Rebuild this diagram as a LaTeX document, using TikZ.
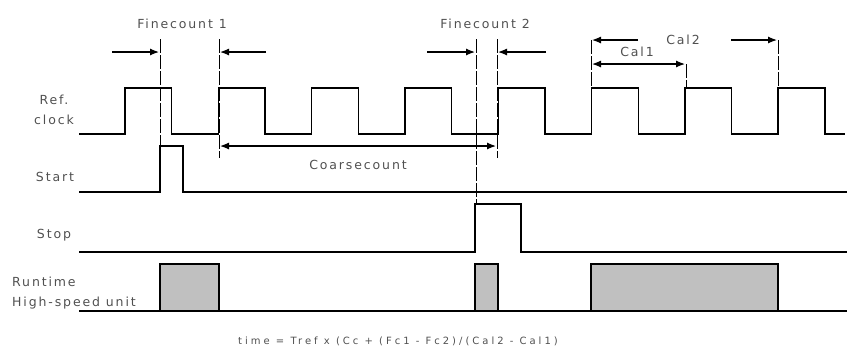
\documentclass[tikz,border=0pt]{standalone}
\usepackage{fontspec}
\setmainfont{DejaVu Sans}[LetterSpace=15]
\usetikzlibrary{arrows.meta}
\definecolor{label-gray}{HTML}{505050}
\definecolor{pulse-gray}{HTML}{C0C0C0}

\begin{document}
\begin{tikzpicture}[x=1pt, y=-1pt,
    every node/.style={font=\fontsize{12.5}{20}\selectfont, text=label-gray, inner sep=0pt},
    wave/.style={line width=1.4pt, line join=miter},
    marker/.style={line width=1pt, dash pattern=on 14pt off 2pt},
    dim/.style={line width=1.2pt, -{Latex[length=9pt,width=7pt]}},
    dimboth/.style={line width=1.2pt, {Latex[length=9pt,width=7pt]}-{Latex[length=9pt,width=7pt]}}]
  \useasboundingbox (0,0) rectangle (849,349);

  % signal names
  \node[align=center] (ref) at (54,110) {Ref.\\clock};
  \node (start) at (55,177) {Start};
  \node (stop) at (54,235) {Stop};
  \node[anchor=west, align=left] (runtime) at (12,293) {Runtime\\High-speed unit};

  % waveforms
  \draw[wave] (79,134) foreach \k in {0,...,7} {
      -- ({125+93.3*\k},134) -- ++(0,-46) -- ++(46.7,0) -- ++(0,46) } -- (845,134);
  \draw[wave] (79,192) -- (160,192) -- (160,146) -- (183,146) -- (183,192) -- (847,192);
  \draw[wave] (79,252) -- (475,252) -- (475,204) -- (521,204) -- (521,252) -- (847,252);
  \draw[wave] (79,311) -- (847,311);
  \foreach \a/\b in {160/219, 475/498, 591/778}
    \draw[line width=1.2pt, fill=pulse-gray] (\a,311) rectangle (\b,264);

  % markers
  \draw[marker] (160,39) -- (160,146);
  \draw[marker] (219,39) -- (219,158);
  \draw[marker] (476,39) -- (476,204);
  \draw[marker] (497,39) -- (497,158);
  \draw[marker] (591,40) -- (591,88);
  \draw[marker] (686,64) -- (686,88);
  \draw[marker] (778,40) -- (778,88);

  % Finecount 1
  \node (fc1) at (182,24) {Finecount 1};
  \coordinate (fc1-l) at (112,52);
  \coordinate (fc1-la) at (159,52);
  \coordinate (fc1-r) at (266,52);
  \coordinate (fc1-ra) at (220,52);
  \draw[dim] (fc1-l) -- (fc1-la);
  \draw[dim] (fc1-r) -- (fc1-ra);

  % Finecount 2
  \node (fc2) at (485,24) {Finecount 2};
  \coordinate (fc2-l) at (427,52);
  \coordinate (fc2-la) at (475,52);
  \coordinate (fc2-r) at (546,52);
  \coordinate (fc2-ra) at (498,52);
  \draw[dim] (fc2-l) -- (fc2-la);
  \draw[dim] (fc2-r) -- (fc2-ra);

  % Coarsecount
  \coordinate (cc-l) at (220,146);
  \coordinate (cc-r) at (496,146);
  \draw[dimboth] (cc-l) -- (cc-r);
  \node (cc) at (358,165) {Coarsecount};

  % Cal1, Cal2
  \coordinate (cal1-l) at (592,64);
  \coordinate (cal1-r) at (685,64);
  \draw[dimboth] (cal1-l) -- (cal1-r);
  \node (cal1) at (637,52) {Cal1};
  \coordinate (cal2-l) at (638,40);
  \coordinate (cal2-la) at (592,40);
  \coordinate (cal2-r) at (731,40);
  \coordinate (cal2-ra) at (777,40);
  \draw[dim] (cal2-l) -- (cal2-la);
  \draw[dim] (cal2-r) -- (cal2-ra);
  \node (cal2) at (683,40) {Cal2};

  % formula
  \node[font=\fontsize{10}{12}\selectfont\addfontfeatures{LetterSpace=30}] (formula) at (398,341)
    {time = Tref x (Cc + (Fc1 - Fc2)/(Cal2 - Cal1)};
\end{tikzpicture}
\end{document}
